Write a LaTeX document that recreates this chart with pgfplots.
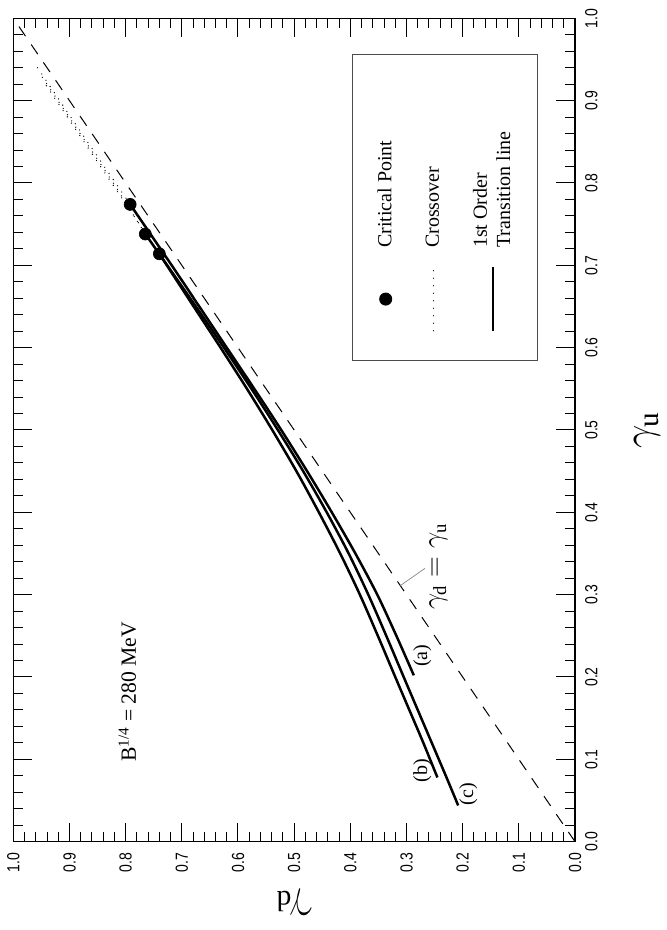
\documentclass[border=0pt]{standalone}
\usepackage{pgfplots}
\pgfplotsset{compat=1.18}
\usepackage{fontspec}
\setmainfont{Liberation Serif}
\newfontfamily\ticksf{Liberation Sans}[FakeStretch=0.8]

\begin{document}
\begin{tikzpicture}[rotate=90, transform shape]
\begin{axis}[
  width=494pt, height=337pt, scale only axis,
  xmin=0, xmax=1, ymin=0, ymax=1,
  xtick={0,0.1,0.2,0.3,0.4,0.5,0.6,0.7,0.8,0.9,1.0},
  ytick={0,0.1,0.2,0.3,0.4,0.5,0.6,0.7,0.8,0.9,1.0},
  minor tick num=4,
  tick align=inside,
  major tick length=11.4pt, minor tick length=6pt,
  axis line style={line width=0.8pt},
  every tick/.style={black, line width=0.6pt},
  /pgf/number format/assume math mode=true,
  /pgf/number format/.cd, fixed, fixed zerofill, precision=1, /pgfplots/.cd,
  tick label style={font=\ticksf\fontsize{10.5}{12}\selectfont},
  xticklabel style={yshift=-2.5pt},
  yticklabel style={xshift=-3pt},
  xlabel={$\gamma_{\mathrm{u}}$},
  ylabel={$\gamma_{\mathrm{d}}$},
  label style={font=\fontsize{25}{28}\selectfont},
  xlabel style={at={(axis description cs:0.5,-0.128)}, anchor=center},
  ylabel style={at={(axis description cs:-0.074,0.5)}, anchor=center},
  legend style={at={(axis cs:0.584,0.397)}, anchor=north west,
    draw=black!70, line width=0.6pt, inner xsep=17pt, inner ysep=13pt,
    row sep=15pt, font=\fontsize{12}{14}\selectfont,
    cells={anchor=west, align=left}},
  legend cell align=left,
  legend image code/.code={\draw[#1] (0pt,0pt) -- (38pt,0pt);},
]

% diagonal gamma_d = gamma_u
\addplot[forget plot, line width=0.6pt, dash pattern=on 7pt off 6pt]
  coordinates {(0,0)(1,1)};

% crossover (dotted)
\addplot[forget plot, line width=0.8pt, line cap=round, dash pattern=on 0pt off 4.5pt]
  coordinates {(0.774,0.792)(0.85,0.868)(0.94,0.957)};
\addplot[forget plot, line width=0.8pt, line cap=round, dash pattern=on 0pt off 4.5pt]
  coordinates {(0.738,0.765)(0.80,0.822)(0.93,0.950)};
\addplot[forget plot, line width=0.8pt, line cap=round, dash pattern=on 0pt off 4.5pt]
  coordinates {(0.714,0.740)(0.80,0.825)(0.92,0.943)};

% first order transition lines
% (a)
\addplot[forget plot, line width=1.5pt, smooth] coordinates {
(0.202,0.287)(0.25,0.318)(0.30,0.352)(0.35,0.391)(0.40,0.433)(0.45,0.477)
(0.50,0.523)(0.55,0.571)(0.60,0.620)(0.65,0.669)(0.70,0.718)(0.774,0.792)};
% (c)
\addplot[forget plot, line width=1.5pt, smooth] coordinates {
(0.044,0.208)(0.08,0.230)(0.12,0.255)(0.16,0.280)(0.20,0.305)(0.25,0.336)
(0.30,0.368)(0.35,0.403)(0.40,0.442)(0.45,0.484)(0.50,0.529)(0.55,0.576)
(0.60,0.625)(0.65,0.675)(0.70,0.726)(0.738,0.765)};
% (b)
\addplot[forget plot, line width=1.5pt, smooth] coordinates {
(0.078,0.245)(0.12,0.270)(0.16,0.295)(0.20,0.320)(0.25,0.351)(0.30,0.383)
(0.35,0.418)(0.40,0.456)(0.45,0.496)(0.50,0.539)(0.55,0.584)(0.60,0.631)
(0.65,0.679)(0.714,0.740)};

% critical points
\addplot[forget plot, only marks, mark=*, mark size=3.6pt]
  coordinates {(0.774,0.792)(0.738,0.765)(0.714,0.740)};

\addlegendimage{only marks, mark=*, mark size=3.6pt,
  legend image code/.code={\draw[##1] plot coordinates {(19pt,0pt)};}}
\addlegendentry{\makebox[106pt][l]{\hspace*{9pt}Critical Point}}
\addlegendimage{line width=0.8pt, line cap=round, dash pattern=on 0pt off 4.5pt}
\addlegendentry{\hspace*{9pt}Crossover}
\addlegendimage{line width=1.5pt}
\addlegendentry{\hspace*{9pt}1st Order\\\hspace*{9pt}Transition line}

\node[font=\fontsize{13}{15}\selectfont] at (axis cs:0.182,0.797) {B\textsuperscript{1/4} = 280 MeV};
\node[font=\fontsize{12}{14}\selectfont] at (axis cs:0.226,0.272) {(a)};
\node[font=\fontsize{12}{14}\selectfont] at (axis cs:0.086,0.272) {(b)};
\node[font=\fontsize{12}{14}\selectfont] at (axis cs:0.058,0.190) {(c)};
\node[font=\fontsize{16}{18}\selectfont] at (axis cs:0.334,0.243) {$\gamma_{\mathrm{d}} = \gamma_{\mathrm{u}}$};
\draw[black!50, line width=0.4pt] (axis cs:0.311,0.311) -- (axis cs:0.332,0.267);
\end{axis}
% room round the frame, as in the reference
\path (current axis.south west) ++(-53pt,-55pt);
\path (current axis.north east) ++(11pt,8pt);
\end{tikzpicture}
\end{document}
